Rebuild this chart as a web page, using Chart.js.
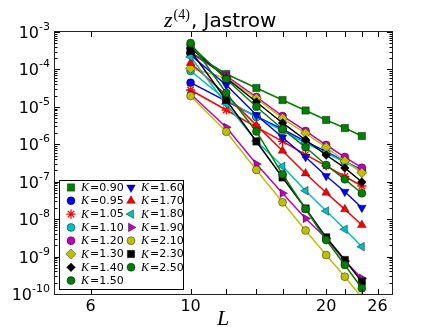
<!DOCTYPE html>
<html>
<head>
<meta charset="utf-8">
<script src="https://cdn.jsdelivr.net/npm/chart.js@4"></script>
<style>
  html, body { margin: 0; padding: 0; background: #fff; }
</style>
</head>
<body>
<canvas id="c" width="436" height="327"></canvas>
<script>
// system sizes L and the K labels
const L = [10, 12, 14, 16, 18, 20, 22, 24];
const kLabels = ['0.90', '0.95', '1.05', '1.10', '1.20', '1.30', '1.40', '1.50',
                 '1.60', '1.70', '1.80', '1.90', '2.10', '2.30', '2.50'];

// z^(4) values, one array per K
const z090 = [2.9e-4, 7.55e-5, 3.19e-5, 1.52e-5, 8.0e-6, 4.46e-6, 2.72e-6, 1.66e-6];
const z095 = [4.42e-5, 1.43e-5, 5.53e-6, 2.52e-6, 1.20e-6, 6.38e-7, 3.51e-7, 2.06e-7];
const z105 = [2.82e-5, 8.24e-6, 2.86e-6, 1.20e-6, 5.30e-7, 2.65e-7, 1.38e-7, 7.68e-8];
const z110 = [9.08e-5, 1.53e-5, 5.36e-6, 2.27e-6, 1.08e-6, 5.85e-7, 3.36e-7, 1.93e-7];
const z120 = [2.75e-4, 6.68e-5, 1.83e-5, 5.70e-6, 2.27e-6, 9.57e-7, 4.57e-7, 2.37e-7];
const z130 = [1.07e-4, 5.90e-5, 1.69e-5, 4.95e-6, 1.97e-6, 8.31e-7, 3.58e-7, 1.74e-7];
const z140 = [3.74e-4, 5.90e-5, 1.35e-5, 3.71e-6, 1.30e-6, 5.17e-7, 2.33e-7, 9.83e-8];
const z150 = [4.49e-4, 5.45e-5, 1.01e-5, 2.56e-6, 8.31e-7, 2.80e-7, 1.16e-7, 4.91e-8];
const z160 = [2.43e-4, 3.84e-5, 6.06e-6, 1.52e-6, 4.57e-7, 1.42e-7, 5.41e-8, 2.02e-8];
const z170 = [1.49e-4, 2.07e-5, 3.20e-6, 6.74e-7, 1.66e-7, 5.09e-8, 1.83e-8, 6.98e-9];
const z180 = [2.15e-4, 1.19e-5, 1.22e-6, 2.58e-7, 5.76e-8, 1.65e-8, 5.36e-9, 1.84e-9];
const z190 = [2.21e-5, 2.84e-6, 2.97e-7, 4.91e-8, 1.04e-8, 3.08e-9, 7.62e-10, 2.63e-10];
const z210 = [1.95e-5, 2.17e-6, 2.06e-7, 2.82e-8, 4.98e-9, 1.10e-9, 2.90e-10, 7.97e-11];
const z230 = [3.17e-4, 1.53e-5, 1.19e-6, 1.30e-7, 1.93e-8, 3.27e-9, 8.1e-10, 2.13e-10];
const z250 = [5.08e-4, 2.35e-5, 2.20e-6, 1.58e-7, 1.87e-8, 2.77e-9, 5.96e-10, 1.42e-10];

// axis ticks
const xTickLabels = [6, 10, 20, 26];
const xTickMarks = [6, 10, 12, 14, 16, 18, 20, 22, 24, 26];
const yExponents = [-3, -4, -5, -6, -7, -8, -9, -10];

const series = [z090, z095, z105, z110, z120, z130, z140, z150,
                z160, z170, z180, z190, z210, z230, z250];

// colour, Chart.js point style, rotation, radius (matplotlib classic look)
const styles = [
    ['#008000', 'rect', 0, 5.2], ['#0000ff', 'circle', 0, 4.0], ['#ff0000', 'star', 0, 4.6],
    ['#00bfbf', 'circle', 0, 4.0], ['#bf00bf', 'circle', 0, 4.0], ['#bfbf00', 'rectRot', 0, 5.0],
    ['#000000', 'rectRot', 0, 4.4], ['#008000', 'circle', 0, 4.0], ['#0000ff', 'triangle', 180, 5.0],
    ['#ff0000', 'triangle', 0, 5.0], ['#00bfbf', 'triangle', 270, 5.0], ['#bf00bf', 'triangle', 90, 5.0],
    ['#bfbf00', 'circle', 0, 4.0], ['#000000', 'rect', 0, 5.2], ['#008000', 'circle', 0, 4.0]
];
const EDGE = 'rgba(0,0,0,0.65)';

const SANS = '"DejaVu Sans", sans-serif';
const SERIF = '"Liberation Serif", "DejaVu Serif", serif';

function legendPoint(ctx, st, px, py) {
    const isStar = st[1] === 'star';
    ctx.fillStyle = st[0];
    ctx.strokeStyle = isStar ? st[0] : EDGE;
    ctx.lineWidth = isStar ? 1.3 : 0.6;
    if (Chart.helpers && Chart.helpers.drawPoint) {
        Chart.helpers.drawPoint(ctx, {
            pointStyle: st[1], rotation: st[2], radius: st[3],
            borderWidth: ctx.lineWidth
        }, px, py);
    } else {
        ctx.fillRect(px - 3.5, py - 3.5, 7, 7);
    }
}

// frame, ticks, labels, title and legend drawn on top
const decor = {
    id: 'decor',
    afterDraw(chart) {
        const { ctx, chartArea: a } = chart;
        const x = chart.scales.x;
        const y = chart.scales.y;
        ctx.save();

        // ticks (inward, all four sides)
        ctx.strokeStyle = '#000';
        ctx.lineWidth = 1;
        ctx.beginPath();
        xTickMarks.forEach(v => {
            const px = Math.round(x.getPixelForValue(v)) + 0.5;
            ctx.moveTo(px, a.bottom); ctx.lineTo(px, a.bottom - 5);
            ctx.moveTo(px, a.top); ctx.lineTo(px, a.top + 5);
        });
        yExponents.forEach(e => {
            for (let m = 1; m < 10; m++) {
                const v = m * Math.pow(10, e);
                if (v > 1e-3 * 1.0001) continue;
                const py = Math.round(y.getPixelForValue(v)) + 0.5;
                const len = m === 1 ? 5 : 2.5;
                ctx.moveTo(a.left, py); ctx.lineTo(a.left + len, py);
                ctx.moveTo(a.right, py); ctx.lineTo(a.right - len, py);
            }
        });
        ctx.stroke();

        // frame
        ctx.strokeStyle = '#222';
        ctx.strokeRect(a.left - 0.5, a.top - 0.5, a.right - a.left + 1, a.bottom - a.top + 1);

        // y tick labels 10^e
        ctx.fillStyle = '#000';
        ctx.textBaseline = 'alphabetic';
        yExponents.forEach(e => {
            const py = y.getPixelForValue(Math.pow(10, e));
            const sup = '-' + (-e);
            ctx.font = '11px ' + SANS;
            const ws = ctx.measureText(sup).width;
            ctx.font = '16px ' + SANS;
            const wb = ctx.measureText('10').width;
            const right = a.left - 5;
            ctx.fillText('10', right - ws - wb, py + 6);
            ctx.font = '11px ' + SANS;
            ctx.fillText(sup, right - ws, py - 2);
        });

        // x tick labels
        ctx.font = '16px ' + SANS;
        ctx.textAlign = 'center';
        ctx.textBaseline = 'top';
        xTickLabels.forEach(v => {
            ctx.fillText(String(v), x.getPixelForValue(v), a.bottom + 5);
        });

        // x axis label
        ctx.font = 'italic 22px ' + SERIF;
        ctx.textBaseline = 'alphabetic';
        ctx.fillText('L', 223, 325);

        // title  z^(4), Jastrow
        ctx.textAlign = 'left';
        let tx = 164;
        ctx.font = 'italic 22px ' + SERIF;
        ctx.fillText('z', tx, 27);
        tx += ctx.measureText('z').width + 1;
        ctx.font = '14px ' + SERIF;
        ctx.fillText('(4)', tx, 19);
        tx += ctx.measureText('(4)').width + 1;
        ctx.font = '20px ' + SANS;
        ctx.fillText(', Jastrow', tx, 27);

        // legend
        const bx = 59, by = 180, bw = 124, bh = 109;
        ctx.fillStyle = '#fff';
        ctx.fillRect(bx, by, bw, bh);
        ctx.strokeStyle = '#000';
        ctx.lineWidth = 1;
        ctx.strokeRect(bx + 0.5, by + 0.5, bw, bh);
        const rowH = 13.3;
        kLabels.forEach((k, i) => {
            const col = i < 8 ? 0 : 1;
            const row = i < 8 ? i : i - 8;
            const mx = col === 0 ? 71 : 131;
            const my = 187.5 + row * rowH;
            ctx.save();
            legendPoint(ctx, styles[i], mx, my);
            ctx.restore();
            ctx.fillStyle = '#000';
            ctx.textBaseline = 'middle';
            ctx.font = 'italic 12px ' + SERIF;
            ctx.fillText('K', mx + 10, my + 0.5);
            const kw = ctx.measureText('K').width;
            ctx.font = '11px ' + SANS;
            ctx.fillText('=' + k, mx + 11 + kw, my + 0.5);
        });

        ctx.restore();
    }
};

function buildChart() {
    // dataset 0 is drawn on top in Chart.js, so list the last K first
    const sets = [];
    for (let i = series.length - 1; i >= 0; i--) {
        const vals = series[i];
        const st = styles[i];
        const isStar = st[1] === 'star';
        sets.push({
            data: L.map((l, j) => ({ x: l, y: vals[j] })),
            borderColor: st[0],
            borderWidth: 1.5,
            pointStyle: st[1],
            pointRotation: st[2],
            pointRadius: st[3],
            pointBackgroundColor: st[0],
            pointBorderColor: isStar ? st[0] : EDGE,
            pointBorderWidth: isStar ? 1.3 : 0.6
        });
    }
    new Chart(document.getElementById('c'), {
        type: 'line',
        data: { datasets: sets },
        options: {
            responsive: false,
            animation: false,
            devicePixelRatio: 1,
            layout: { padding: { left: 55, right: 44, top: 32, bottom: 33 } },
            scales: {
                x: { type: 'logarithmic', min: 5, max: 28, display: false },
                y: { type: 'logarithmic', min: 1e-10, max: 1e-3, display: false }
            },
            plugins: { legend: { display: false }, tooltip: { enabled: false } }
        },
        plugins: [decor]
    });
}

buildChart();
</script>
</body>
</html>
